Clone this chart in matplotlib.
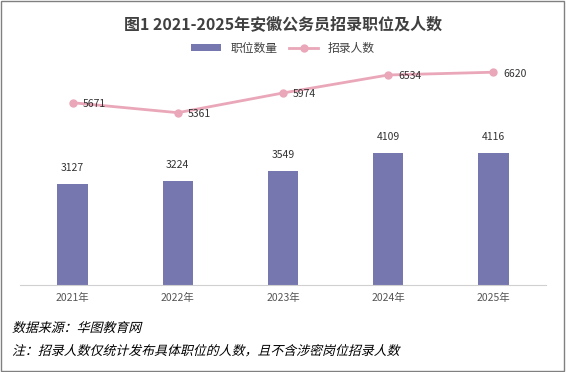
import matplotlib
matplotlib.use("Agg")
import matplotlib.pyplot as plt
from matplotlib.patches import Rectangle, PathPatch
from matplotlib.textpath import TextPath
from matplotlib.font_manager import FontProperties
from matplotlib.transforms import Affine2D
import numpy as np

plt.rcParams['font.family'] = ['Noto Sans CJK SC', 'DejaVu Sans']

years = ["2021年", "2022年", "2023年", "2024年", "2025年"]
positions = [3127, 3224, 3549, 4109, 4116]   # 职位数量
recruits = [5671, 5361, 5974, 6534, 6620]    # 招录人数

bar_color = "#7677AF"
line_color = "#E9A7B9"

fig = plt.figure(figsize=(5.66, 3.72), dpi=100)
ax = fig.add_axes([20 / 566, 1 - 285 / 372, 526 / 566, 225 / 372])

x = np.arange(len(years))
bars = ax.bar(x, positions, width=0.29, color=bar_color, label="职位数量", zorder=2)
line, = ax.plot(x, recruits, color=line_color, lw=2, marker="o", ms=5, label="招录人数", zorder=3)

for xi, v in zip(x, positions):
    ax.annotate(str(v), (xi, v), xytext=(0, 8), textcoords="offset points",
                ha="center", va="bottom", fontsize=7.5, color="#333333")
for xi, v in zip(x, recruits):
    ax.annotate(str(v), (xi, v), xytext=(7, -1), textcoords="offset points",
                ha="left", va="center", fontsize=7.5, color="#333333")

ax.set_xlim(-0.5, len(years) - 0.5)
ax.set_ylim(0, 7000)
ax.set_xticks(x)
ax.set_xticklabels(years, fontsize=7.5, color="#555555")
ax.tick_params(axis="x", length=0, pad=6)
ax.set_yticks([])
for s in ["top", "right", "left"]:
    ax.spines[s].set_visible(False)
ax.spines["bottom"].set_color("#D0D0D0")

fig.text(0.5, 1 - 24 / 372, "图1 2021-2025年安徽公务员招录职位及人数",
         ha="center", va="center", fontsize=11.5, fontweight="bold", color="#404040")
fig.legend([bars, line], ["职位数量", "招录人数"], loc="center",
           bbox_to_anchor=(0.5, 1 - 48 / 372), ncol=2, frameon=False,
           fontsize=8.5, handlelength=2.5, handleheight=0.5, columnspacing=1.0,
           labelcolor="#404040")


# slanted footnote text drawn as skewed glyph paths (CJK fonts have no italic face)
def slanted_text(s, x_px, y_px, size):
    fp = FontProperties(family="Noto Sans CJK SC", weight="light")
    tp = TextPath((0, 0), s, size=size, prop=fp)
    tr = Affine2D().skew_deg(14, 0).scale(100 / 72).translate(x_px, 372 - y_px)
    patch = PathPatch(tr.transform_path(tp), facecolor="black", edgecolor="none")
    patch.set_transform(Affine2D().scale(1 / 566, 1 / 372) + fig.transFigure)
    fig.patches.append(patch)


slanted_text("数据来源：华图教育网", 12, 332, 9.3)
slanted_text("注：招录人数仅统计发布具体职位的人数，且不含涉密岗位招录人数", 12, 355, 9.3)

fig.patches.append(Rectangle((0.002, 0.003), 0.995, 0.994, transform=fig.transFigure,
                             fill=False, edgecolor="#808080", lw=1))

fig.savefig("out.png", dpi=100)
